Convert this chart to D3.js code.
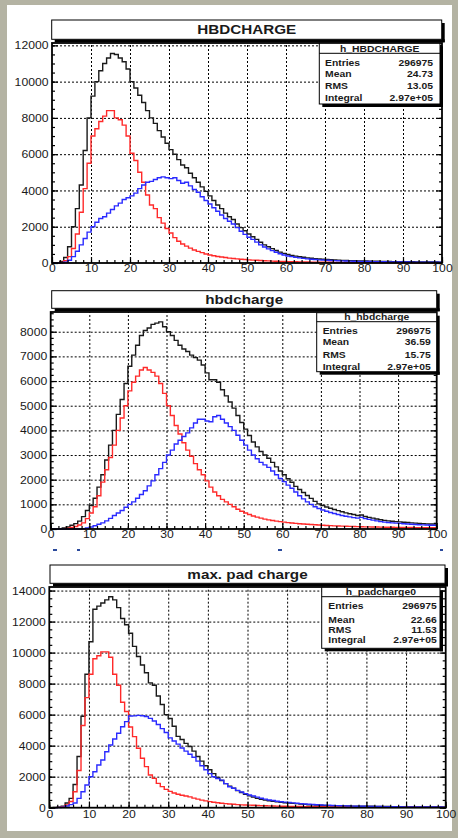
<!DOCTYPE html>
<html>
<head>
<meta charset="utf-8">
<script src="https://cdn.jsdelivr.net/npm/d3@7"></script>
<style>
html, body { margin: 0; padding: 0; background: #b4b3a3; }
svg { display: block; }
text { font-family: "Liberation Sans", Arial, Helvetica, sans-serif; fill: #1a1a1a; }
</style>
</head>
<body>
<svg id="chart" width="458" height="838"></svg>
<script>
// ---- data: 100 bins of width 1, from 0 to 100 ----
const binLow = d3.range(0, 100);

// HBDCHARGE
const hbd_all = [0,20,80,300,900,2000,3000,4300,6200,8000,
  9200,10000,10600,11000,11300,11550,11500,11300,11100,10700,
  10000,9650,9250,8850,8400,8000,7700,7300,6950,6600,
  6250,6000,5700,5400,5250,4950,4700,4450,4200,3950,
  3700,3450,3200,3000,2750,2550,2400,2150,1950,1780,
  1600,1450,1300,1140,1000,900,790,690,600,530,
  470,420,380,345,315,285,260,240,220,205,
  190,178,166,156,147,138,131,124,118,113,
  108,103,98,93,89,86,82,78,75,73,
  70,67,65,62,60,58,56,54,53,51];
const hbd_red = [0,5,30,120,350,800,1600,2800,4100,5500,
  7000,7400,7800,8100,8400,8400,8000,7900,7600,7000,
  6050,5650,5000,4450,3750,3200,3000,2500,2200,1900,
  1650,1400,1200,1050,930,820,720,640,570,500,
  440,400,360,330,300,270,250,225,205,190,
  175,160,150,135,125,115,105,98,90,84,
  78,72,68,63,58,55,51,48,45,42,
  40,38,36,34,32,30,29,27,26,25,
  24,23,22,21,20,20,19,18,17,17,
  16,15,15,14,14,13,13,12,12,11];
const hbd_blue = [0,0,10,50,150,350,650,1000,1350,1700,
  2000,2250,2450,2550,2750,2950,3150,3300,3500,3600,
  3700,3850,4100,4300,4450,4500,4600,4700,4750,4700,
  4650,4700,4550,4400,4450,4250,4050,3900,3650,3450,
  3250,3050,2850,2650,2450,2300,2150,1950,1750,1580,
  1420,1300,1150,1000,880,780,680,590,510,440,
  390,350,310,280,255,230,210,190,175,162,
  150,140,130,122,115,108,102,97,92,88,
  84,80,76,72,69,66,63,60,58,56,
  54,52,50,48,46,45,43,42,41,40];

// hbdcharge
const hbdc_all = [0,5,15,40,80,150,220,320,500,750,
  950,1250,1700,2200,2800,3400,4000,4650,5250,5900,
  6600,7050,7450,7850,8050,8150,8300,8350,8400,8200,
  8000,7850,7650,7450,7300,7200,7050,6950,6850,6650,
  6330,6050,6050,5950,5650,5400,5150,4900,4600,4320,
  4050,3790,3530,3330,3140,3000,2870,2700,2520,2350,
  2200,2040,1895,1730,1600,1480,1360,1240,1120,1020,
  950,890,840,790,745,700,655,620,585,545,
  565,505,470,440,405,375,350,330,315,300,
  290,275,262,250,240,228,218,208,202,196];
const hbdc_red = [0,0,5,15,30,60,100,160,250,420,
  650,900,1350,1900,2400,2900,3400,4000,4500,5000,
  5600,5950,6200,6450,6550,6450,6350,6200,5900,5500,
  5000,4600,4200,3850,3500,3200,2950,2650,2400,2200,
  1950,1700,1500,1350,1200,1100,1000,900,800,720,
  650,590,530,480,440,400,370,345,320,300,
  280,260,245,230,215,200,190,180,170,160,
  150,142,135,128,122,116,110,105,100,96,
  92,88,85,82,79,76,73,70,68,66,
  64,62,60,58,56,54,52,50,49,48];
const hbdc_blue = [0,0,0,0,0,0,0,0,10,40,
  80,130,190,250,330,430,550,650,750,880,
  1000,1100,1250,1400,1550,1750,1950,2200,2450,2700,
  3000,3200,3450,3600,3750,3900,4100,4300,4450,4450,
  4380,4350,4550,4600,4450,4300,4150,4000,3800,3600,
  3400,3200,3000,2850,2700,2600,2500,2350,2200,2050,
  1920,1780,1650,1500,1350,1220,1100,1000,900,830,
  770,720,670,630,590,550,520,490,460,440,
  470,420,390,360,330,300,280,265,250,240,
  230,215,205,195,185,175,168,160,155,150];

// max. pad charge
const pad_all = [0,10,40,100,300,600,1500,3300,5900,8600,
  10700,12800,13000,13200,13400,13600,13400,12900,12200,11800,
  11250,10400,9750,9200,8700,8050,7900,7200,6650,6000,
  5750,5250,4600,4400,4150,3950,3650,3300,3000,2700,
  2450,2200,1950,1750,1550,1380,1250,1100,980,870,
  760,680,600,540,490,450,410,380,350,320,
  300,280,260,240,215,195,180,170,155,145,
  135,128,120,115,110,105,102,100,98,96,
  94,90,86,82,78,75,72,69,66,63,
  60,58,56,54,52,50,48,46,44,42];
const pad_red = [0,5,20,60,180,400,1030,2400,5300,7100,
  8600,9600,9800,10050,10050,9700,8600,7900,6800,6200,
  5200,4580,3830,3190,2650,2110,1890,1570,1360,1180,
  1050,950,870,800,750,700,620,550,490,440,
  390,350,320,290,260,240,220,200,185,175,
  165,155,145,135,125,118,110,104,98,92,
  88,84,80,76,72,68,65,62,60,58,
  56,54,52,50,48,46,44,42,40,38,
  36,35,34,33,32,31,30,29,28,27,
  26,25,25,24,24,23,23,22,22,21];
const pad_blue = [0,0,10,40,110,200,300,600,1030,1460,
  2000,2320,2750,3080,3610,4040,4430,4800,5220,5550,
  5910,5920,5950,5930,5880,5760,5590,5360,5100,4850,
  4500,4300,4100,3850,3650,3450,3250,3000,2700,2450,
  2200,2000,1880,1780,1550,1350,1250,1120,1010,910,
  820,750,680,610,550,500,460,420,385,360,
  340,310,285,260,240,220,205,190,175,165,
  155,145,135,125,118,110,104,98,94,90,
  86,82,78,74,70,67,64,61,58,56,
  54,52,50,48,46,45,43,42,41,40];

const titles = ["HBDCHARGE", "hbdcharge", "max. pad charge"];
const statNames = ["h_HBDCHARGE", "h_hbdcharge", "h_padcharge0"];
const statLabels = ["Entries", "Mean", "RMS", "Integral"];
const hbd_stats = ["296975", "24.73", "13.05", "2.97e+05"];
const hbdc_stats = ["296975", "36.59", "15.75", "2.97e+05"];
const pad_stats = ["296975", "22.66", "11.53", "2.97e+05"];

// ---- layout ----
const SX = 1.22; // the picture is stretched sideways, text too
const svg = d3.select("#chart");
svg.append("rect").attr("x", 7).attr("y", 5).attr("width", 445).attr("height", 826).attr("fill", "#fff");

const panels = [
  { title: titles[0], name: statNames[0], stats: hbd_stats, all: hbd_all, red: hbd_red, blue: hbd_blue,
    ymax: 12130, ystep: 2000, yminor: 500, l: 52, r: 442, t: 43, b: 263, xlab: 1.6,
    tb: [51.7, 441.7, 20, 39.3], sb: [319.3, 440, 43.3, 104, 53.3], rows: [62.7, 74, 86, 97.7], lx: 325, vx: 433 },
  { title: titles[1], name: statNames[1], stats: hbdc_stats, all: hbdc_all, red: hbdc_red, blue: hbdc_blue,
    ymax: 8800, ystep: 1000, yminor: 250, l: 50.7, r: 436.7, t: 312, b: 529, xlab: 2.2,
    tb: [51.7, 436.7, 290.7, 308.3], sb: [316.7, 436.7, 312.7, 371.7, 321.7], rows: [330.7, 341.7, 355, 366.7], lx: 322.7, vx: 430.7 },
  { title: titles[2], name: statNames[2], stats: pad_stats, all: pad_all, red: pad_red, blue: pad_blue,
    ymax: 14230, ystep: 2000, yminor: 500, l: 49.3, r: 445.7, t: 587, b: 807.7, xlab: 3.5,
    tb: [50, 445, 565, 583.3], sb: [321.7, 440, 587.3, 648.3, 596.7], rows: [606, 619.3, 629.3, 640], lx: 328.3, vx: 436.7 }
];

function stext(g, x, y, str, anchor, size, weight) {
  return g.append("text")
    .attr("transform", `translate(${x},${y}) scale(${SX},1)`)
    .attr("text-anchor", anchor)
    .style("font-size", size + "px")
    .style("font-weight", weight || "normal")
    .text(str);
}

function shadowBox(g, x0, x1, y0, y1) {
  g.append("rect").attr("x", x1).attr("y", y0 + 3).attr("width", 3).attr("height", y1 - y0).attr("fill", "#000");
  g.append("rect").attr("x", x0 + 3).attr("y", y1).attr("width", x1 - x0).attr("height", 3).attr("fill", "#000");
  g.append("rect").attr("x", x0).attr("y", y0).attr("width", x1 - x0).attr("height", y1 - y0)
    .attr("fill", "#fff").attr("stroke", "#000").attr("stroke-width", 1);
}

panels.forEach(function(p, k) {
  const g = svg.append("g");
  const x = d3.scaleLinear().domain([0, 100]).range([p.l, p.r]);
  const y = d3.scaleLinear().domain([0, p.ymax]).range([p.b, p.t]);
  const w = p.r - p.l, h = p.b - p.t;
  const yMajor = d3.range(0, p.ymax, p.ystep);
  const yMin = d3.range(0, p.ymax, p.yminor);
  const xMajor = d3.range(0, 101, 10);
  const xMin = d3.range(0, 101, 2);

  // grid
  g.append("g").attr("class", "grid").attr("transform", `translate(${p.l},0)`)
    .call(d3.axisLeft(y).tickValues(yMajor.slice(1)).tickSize(-w).tickFormat(""));
  g.append("g").attr("class", "grid").attr("transform", `translate(0,${p.b})`)
    .call(d3.axisBottom(x).tickValues(xMajor.slice(1, 10)).tickSize(-h).tickFormat(""));
  g.selectAll(".grid .domain").remove();
  g.selectAll(".grid line").attr("stroke", "#000").attr("stroke-width", 1).attr("stroke-dasharray", "2,2");

  // histograms
  const clipId = "clip" + k;
  g.append("clipPath").attr("id", clipId).append("rect")
    .attr("x", p.l).attr("y", p.t).attr("width", w).attr("height", h + 1);
  const line = d3.line().x(d => x(d[0])).y(d => y(d[1])).curve(d3.curveStepAfter);
  [[p.all, "#1a1a1a"], [p.red, "#ff2a2a"], [p.blue, "#2a2aff"]].forEach(function(s) {
    const pts = binLow.map((b, i) => [b, s[0][i]]);
    pts.push([100, s[0][99]]);
    g.append("path").attr("clip-path", `url(#${clipId})`)
      .attr("d", line(pts)).attr("fill", "none")
      .attr("stroke", s[1]).attr("stroke-width", 1.4);
  });

  // frame
  g.append("rect").attr("x", p.l).attr("y", p.t).attr("width", w).attr("height", h)
    .attr("fill", "none").attr("stroke", "#000").attr("stroke-width", 1.8);

  // ticks
  const tk = [
    [d3.axisLeft(y).tickValues(yMajor).tickSize(-6), `translate(${p.l},0)`],
    [d3.axisLeft(y).tickValues(yMin).tickSize(-3), `translate(${p.l},0)`],
    [d3.axisRight(y).tickValues(yMajor).tickSize(-6), `translate(${p.r},0)`],
    [d3.axisRight(y).tickValues(yMin).tickSize(-3), `translate(${p.r},0)`],
    [d3.axisBottom(x).tickValues(xMajor).tickSize(-6), `translate(0,${p.b})`],
    [d3.axisBottom(x).tickValues(xMin).tickSize(-3), `translate(0,${p.b})`]
  ];
  tk.forEach(function(a) {
    const ag = g.append("g").attr("transform", a[1]).call(a[0].tickFormat(""));
    ag.select(".domain").remove();
    ag.selectAll("line").attr("stroke", "#000").attr("stroke-width", 1.2);
  });

  // labels
  const yl = g.append("g").attr("transform", `translate(${p.l},0)`)
    .call(d3.axisLeft(y).tickValues(yMajor).tickSize(0).tickFormat(d3.format("d")));
  yl.select(".domain").remove();
  yl.selectAll("text").attr("x", null).attr("dy", "0.36em")
    .attr("transform", `translate(-3.5,0) scale(${SX},1)`)
    .style("font-size", "10px").attr("font-family", null);

  const xl = g.append("g").attr("transform", `translate(0,${p.b})`)
    .call(d3.axisBottom(x).tickValues(xMajor).tickSize(0).tickPadding(p.xlab).tickFormat(d3.format("d")));
  xl.select(".domain").remove();
  xl.selectAll("text").attr("transform", `scale(${SX},1)`)
    .attr("x", null).style("font-size", "10px").attr("font-family", null);
  xl.selectAll(".tick").each(function(d) {
    d3.select(this).select("text").attr("transform", `scale(${SX},1)`);
  });

  // title
  shadowBox(g, p.tb[0], p.tb[1], p.tb[2], p.tb[3]);
  stext(g, (p.tb[0] + p.tb[1]) / 2, (p.tb[2] + p.tb[3]) / 2 + 4.5, p.title, "middle", 12.5, "bold");

  // stats
  const sb = p.sb;
  shadowBox(g, sb[0], sb[1], sb[2], sb[3]);
  g.append("line").attr("x1", sb[0]).attr("x2", sb[1]).attr("y1", sb[4]).attr("y2", sb[4])
    .attr("stroke", "#000").attr("stroke-width", 1);
  stext(g, (sb[0] + sb[1]) / 2, (sb[2] + sb[4]) / 2 + 3.2, p.name, "middle", 8.5, "bold");
  statLabels.forEach(function(lab, i) {
    stext(g, p.lx, p.rows[i] + 3.2, lab, "start", 8.5, "bold");
    stext(g, p.vx, p.rows[i] + 3.2, p.stats[i], "end", 8.5, "bold");
  });
});

// small blue marks left under the middle plot
[[53, 4], [77, 3], [278, 4], [440, 3]].forEach(function(m) {
  svg.append("rect").attr("x", m[0]).attr("y", 549).attr("width", m[1]).attr("height", 2).attr("fill", "#2b4a9c");
});
</script>
</body>
</html>
